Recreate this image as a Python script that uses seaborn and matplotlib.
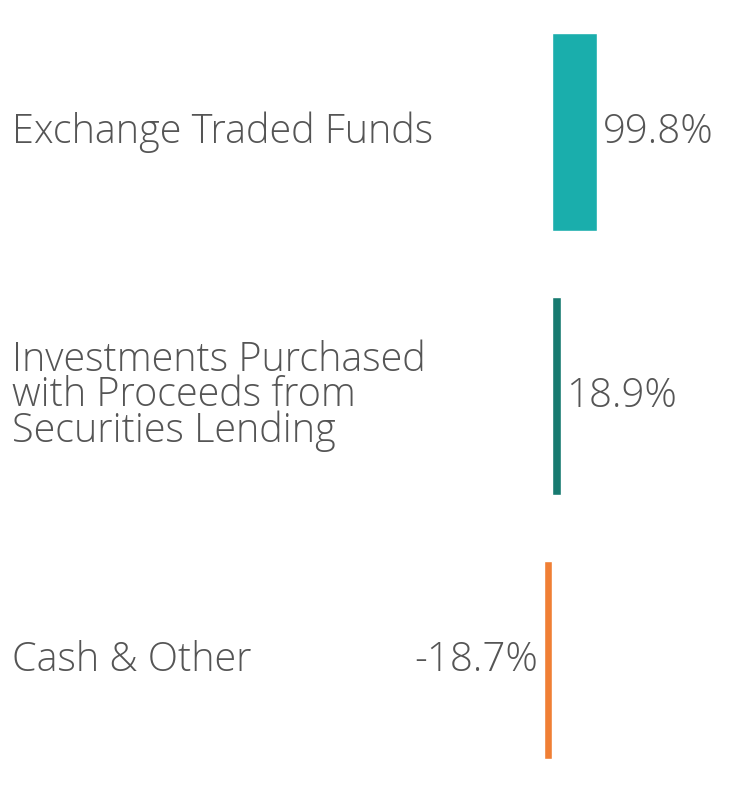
import matplotlib
matplotlib.use("Agg")
import matplotlib.pyplot as plt
import matplotlib.transforms as mtransforms
import seaborn as sns
import pandas as pd

categories = ["Exchange Traded Funds",
              "Investments Purchased\nwith Proceeds from\nSecurities Lending",
              "Cash & Other"]
values = [99.8, 18.9, -18.7]
value_labels = ["99.8%", "18.9%", "-18.7%"]
colors = ["#1aaeac", "#177a70", "#f07f35"]

sns.set_theme(style="white")
plt.rcParams['font.family'] = ['Open Sans', 'DejaVu Sans']

W, H = 744, 792
fig = plt.figure(figsize=(W / 100, H / 100), dpi=100)
ax = fig.add_axes([544 / W, 0, (597 - 544) / W, 1])

df = pd.DataFrame({"cat": categories, "val": values})
sns.barplot(data=df, y="cat", x="val", hue="cat", palette=colors,
            orient="h", width=0.75, legend=False, ax=ax, saturation=1)
ax.set_xlim(-18.7, 99.8)
ax.set_ylim(2.5, -0.5)
ax.axis("off")

text_color = "#555555"
for cont, lab in zip(ax.containers, value_labels):
    ax.bar_label(cont, labels=[lab], padding=4, fontsize=29, color=text_color,
                 fontweight="light")

trans = mtransforms.blended_transform_factory(fig.transFigure, ax.transData)
for i, c in enumerate(categories):
    ax.text(12 / W, i, c, transform=trans, ha="left", va="center",
            fontsize=28.5, color=text_color, linespacing=0.82, clip_on=False,
            fontweight="light")

fig.savefig("out.png", dpi=100)
